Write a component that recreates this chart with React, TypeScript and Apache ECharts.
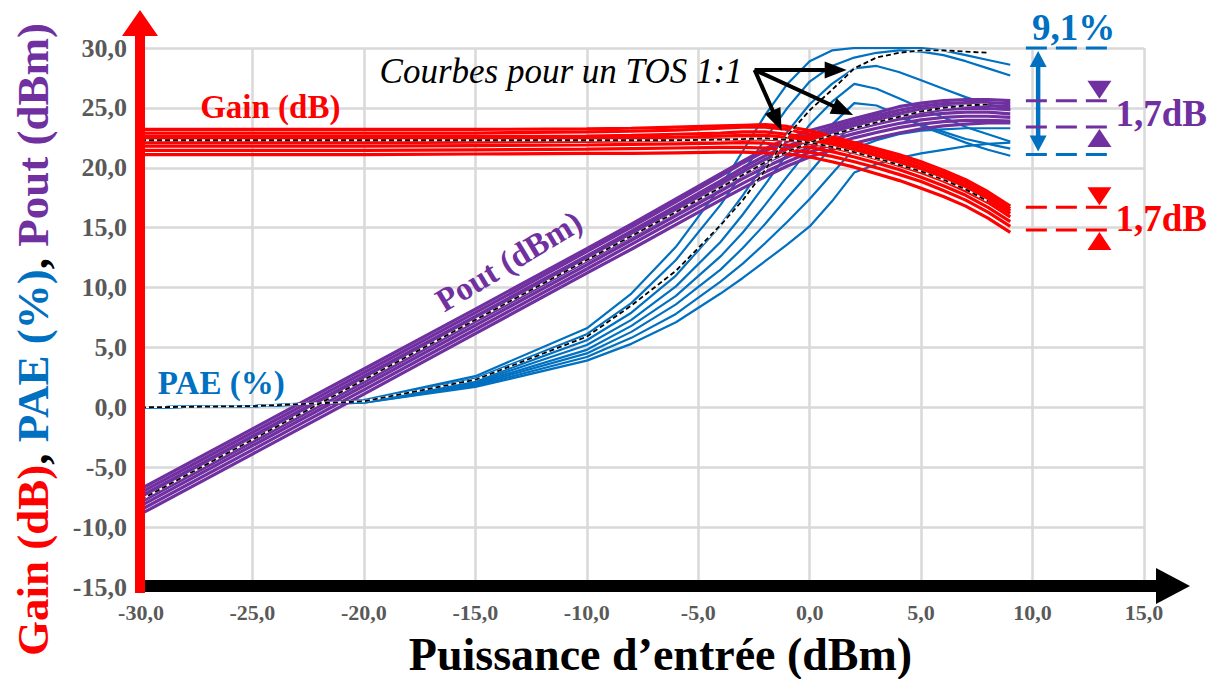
import React, { useEffect, useRef } from "react";
import * as echarts from "echarts";

// Input power (dBm), shared by all measured curves
const pin = [-30, -25, -20, -15, -10, -8, -6, -4, -3, -2, -1, 0, 1, 2, 3, 4, 5, 6, 7, 8, 9];
const pinNominal = [-30, -25, -20, -15, -10, -8, -6, -4, -3, -2, -1, 0, 1, 2, 3, 4, 5, 6, 7, 8];

// Gain (dB) for each load
const gain1 = [23.2, 23.2, 23.2, 23.2, 23.25, 23.3, 23.4, 23.5, 23.55, 23.6, 23.45, 23.1, 22.6, 22.1, 21.6, 21.1, 20.5, 19.8, 19.0, 18.0, 16.8];
const gain2 = [22.9, 22.9, 22.9, 22.9, 23.0, 23.05, 23.15, 23.3, 23.4, 23.4, 23.2, 22.8, 22.35, 21.85, 21.35, 20.85, 20.25, 19.55, 18.75, 17.8, 16.6];
const gain3 = [22.6, 22.6, 22.6, 22.6, 22.65, 22.7, 22.8, 22.9, 23.0, 23.0, 22.8, 22.5, 22.1, 21.6, 21.1, 20.6, 20.0, 19.3, 18.5, 17.6, 16.4];
const gain4 = [22.4, 22.4, 22.4, 22.4, 22.45, 22.5, 22.55, 22.65, 22.7, 22.7, 22.55, 22.3, 21.9, 21.45, 20.95, 20.4, 19.8, 19.1, 18.3, 17.35, 16.2];
const gain5 = [22.1, 22.1, 22.1, 22.15, 22.2, 22.25, 22.3, 22.35, 22.4, 22.4, 22.3, 22.05, 21.7, 21.25, 20.75, 20.2, 19.6, 18.9, 18.05, 17.1, 15.9];
const gain6 = [21.8, 21.8, 21.8, 21.85, 21.9, 21.95, 22.0, 22.05, 22.1, 22.05, 21.9, 21.7, 21.35, 20.9, 20.4, 19.85, 19.2, 18.5, 17.7, 16.7, 15.5];
const gain7 = [21.45, 21.45, 21.45, 21.5, 21.55, 21.6, 21.65, 21.7, 21.7, 21.65, 21.5, 21.3, 20.95, 20.5, 20.0, 19.45, 18.85, 18.1, 17.3, 16.3, 15.1];
const gain8 = [21.1, 21.1, 21.1, 21.15, 21.2, 21.2, 21.25, 21.3, 21.3, 21.25, 21.15, 20.9, 20.5, 20.05, 19.5, 18.95, 18.3, 17.6, 16.8, 15.8, 14.6];
const gainNominal = [22.3, 22.3, 22.3, 22.3, 22.3, 22.3, 22.3, 22.35, 22.4, 22.45, 22.35, 22.1, 21.75, 21.3, 20.8, 20.25, 19.7, 19.0, 18.2, 17.2];

// Output power (dBm) for each load
const pout1 = [-6.8, -1.8, 3.2, 8.2, 13.25, 15.3, 17.4, 19.5, 20.55, 21.6, 22.45, 23.1, 23.6, 24.1, 24.6, 25.1, 25.4, 25.6, 25.7, 25.7, 25.6];
const pout2 = [-7.1, -2.1, 2.9, 7.9, 13.0, 15.05, 17.15, 19.3, 20.4, 21.4, 22.2, 22.8, 23.35, 23.85, 24.35, 24.8, 25.15, 25.35, 25.45, 25.45, 25.35];
const pout3 = [-7.4, -2.4, 2.6, 7.6, 12.65, 14.7, 16.8, 18.9, 20.0, 21.0, 21.8, 22.5, 23.1, 23.6, 24.1, 24.55, 24.9, 25.1, 25.2, 25.2, 25.1];
const pout4 = [-7.6, -2.6, 2.4, 7.4, 12.45, 14.5, 16.55, 18.65, 19.7, 20.7, 21.55, 22.3, 22.9, 23.45, 23.9, 24.3, 24.6, 24.85, 24.95, 24.95, 24.85];
const pout5 = [-7.9, -2.9, 2.1, 7.15, 12.2, 14.25, 16.3, 18.35, 19.4, 20.4, 21.3, 22.05, 22.7, 23.2, 23.65, 24.05, 24.35, 24.55, 24.65, 24.65, 24.5];
const pout6 = [-8.2, -3.2, 1.8, 6.85, 11.9, 13.95, 16.0, 18.05, 19.1, 20.05, 20.9, 21.7, 22.35, 22.85, 23.3, 23.7, 24.0, 24.2, 24.3, 24.3, 24.2];
const pout7 = [-8.55, -3.55, 1.45, 6.5, 11.55, 13.6, 15.65, 17.7, 18.7, 19.65, 20.5, 21.3, 21.95, 22.5, 22.95, 23.35, 23.65, 23.85, 23.95, 23.95, 23.9];
const pout8 = [-8.9, -3.9, 1.1, 6.15, 11.2, 13.2, 15.25, 17.3, 18.3, 19.25, 20.15, 20.9, 21.5, 22.05, 22.5, 22.9, 23.25, 23.5, 23.65, 23.75, 23.75];
const poutNominal = [-7.7, -2.7, 2.3, 7.3, 12.3, 14.3, 16.3, 18.35, 19.4, 20.45, 21.35, 22.1, 22.75, 23.3, 23.8, 24.25, 24.7, 25.0, 25.2, 25.3];

// PAE (%) for each load
const pae1 = [0, 0.1, 0.6, 2.6, 6.6, 9.5, 13.4, 18.4, 21.4, 24.4, 27.0, 28.9, 29.8, 30.0, 30.0, 30.0, 30.0, 29.8, 29.4, 29.0, 28.6];
const pae2 = [0, 0.1, 0.55, 2.4, 6.1, 8.7, 12.3, 16.9, 19.6, 22.4, 25.0, 27.2, 28.5, 29.2, 29.6, 29.8, 29.7, 29.4, 28.9, 28.3, 27.7];
const pae3 = [0, 0.1, 0.5, 2.2, 5.6, 7.9, 11.0, 15.2, 17.7, 20.4, 23.0, 25.3, 27.0, 28.3, 28.5, 28.0, 27.3, 26.6, 25.9, 25.3, 24.8];
const pae4 = [0, 0.1, 0.5, 2.1, 5.2, 7.3, 10.1, 13.8, 16.1, 18.6, 21.2, 23.6, 25.5, 27.0, 26.6, 25.8, 25.0, 24.2, 23.4, 22.8, 22.2];
const pae5 = [0, 0.1, 0.45, 2.0, 4.8, 6.8, 9.3, 12.6, 14.6, 16.9, 19.3, 21.6, 23.6, 25.4, 25.2, 24.4, 23.5, 22.8, 22.1, 21.5, 21.0];
const pae6 = [0, 0.1, 0.45, 1.9, 4.5, 6.3, 8.6, 11.5, 13.3, 15.3, 17.5, 19.6, 21.8, 23.8, 24.5, 24.2, 23.6, 23.0, 22.4, 22.0, 21.6];
const pae7 = [0, 0.1, 0.4, 1.8, 4.2, 5.8, 7.8, 10.5, 12.0, 13.7, 15.5, 17.4, 19.5, 21.6, 22.3, 22.8, 23.1, 23.2, 23.3, 23.3, 23.3];
const pae8 = [0, 0.1, 0.4, 1.7, 3.9, 5.3, 7.1, 9.5, 10.8, 12.2, 13.6, 15.1, 17.2, 19.6, 20.3, 20.8, 21.2, 21.5, 21.8, 22.0, 22.1];
const paeNominal = [0, 0.1, 0.5, 2.3, 5.9, 8.5, 11.4, 15.2, 17.3, 19.8, 22.7, 24.8, 26.5, 28.3, 29.2, 29.6, 29.8, 29.8, 29.7, 29.6];

const gainCurves = [gain1, gain2, gain3, gain4, gain5, gain6, gain7, gain8];
const poutCurves = [pout1, pout2, pout3, pout4, pout5, pout6, pout7, pout8];
const paeCurves = [pae1, pae2, pae3, pae4, pae5, pae6, pae7, pae8];

// Spread annotations (values read at the right end)
const paeSpread = [30.0, 21.1];
const poutSpread = [25.6, 23.4];
const gainSpread = [16.7, 14.8];
const paeSpreadLabel = "9,1%";
const poutSpreadLabel = "1,7dB";
const gainSpreadLabel = "1,7dB";

const RED = "#FF0000";
const BLUE = "#0070C0";
const PURPLE = "#7030A0";
const GREY = "#595959";
const SERIF = "Liberation Serif";

const fmt = (v: number) => v.toFixed(1).replace(".", ",");

function arrow(x1: number, y1: number, x2: number, y2: number, color: string, width: number, headLen: number, headW: number) {
  const dx = x2 - x1, dy = y2 - y1;
  const L = Math.hypot(dx, dy);
  const ux = dx / L, uy = dy / L;
  const bx = x2 - ux * headLen, by = y2 - uy * headLen;
  return [
    { type: "line", z: 100, shape: { x1, y1, x2: bx + ux * 2, y2: by + uy * 2 }, style: { stroke: color, lineWidth: width } },
    {
      type: "polygon", z: 100,
      shape: { points: [[x2, y2], [bx - uy * headW / 2, by + ux * headW / 2], [bx + uy * headW / 2, by - ux * headW / 2]] },
      style: { fill: color },
    },
  ];
}

const txt = (text: string, x: number, y: number, color: string, size: number, opts: any = {}) => ({
  type: "text", z: 100, x, y, rotation: opts.rotation || 0,
  style: {
    text, fill: color, fontFamily: SERIF, fontSize: size,
    fontWeight: opts.italic ? "normal" : "bold", fontStyle: opts.italic ? "italic" : "normal",
    align: opts.align || "center", verticalAlign: "middle",
  },
});

export default function App() {
  const ref = useRef<HTMLDivElement>(null);
  useEffect(() => {
    if (!ref.current) return;
    const chart = echarts.init(ref.current, undefined, { renderer: "svg" });

    const series: any[] = [];
    const mk = (name: string, xs: number[], ys: number[], color: string, width: number, extra: any = {}) => ({
      type: "line", name, data: xs.map((x, i) => [x, ys[i]]), showSymbol: false, symbol: "none",
      lineStyle: { color, width, ...extra }, silent: true, animation: false,
    });
    paeCurves.forEach((c, i) => series.push(mk(`PAE ${i + 1}`, pin, c, BLUE, 2.2)));
    poutCurves.forEach((c, i) => series.push(mk(`Pout ${i + 1}`, pin, c, PURPLE, 3.2)));
    gainCurves.forEach((c, i) => series.push(mk(`Gain ${i + 1}`, pin, c, RED, 3.2)));
    [paeNominal, poutNominal, gainNominal].forEach((c, i) => {
      series.push(mk(`nominal-bg ${i}`, pinNominal, c, "#FFFFFF", 2));
      series.push(mk(`nominal ${i}`, pinNominal, c, "#000000", 1.8, { type: [5, 3] }));
    });

    const richStyle = (color: string) => ({ color, fontFamily: SERIF, fontWeight: "bold", fontSize: 45 });

    chart.setOption({
      animation: false,
      backgroundColor: "#FFFFFF",
      textStyle: { fontFamily: SERIF },
      grid: { left: 141, right: 73, top: 48, bottom: 92, containLabel: false, outerBoundsMode: "none" },
      xAxis: {
        type: "value", min: -30, max: 15, interval: 5,
        axisLine: { show: false }, axisTick: { show: false },
        splitLine: { show: true, lineStyle: { color: "#D9D9D9", width: 2.5 } },
        axisLabel: { formatter: fmt, fontFamily: SERIF, fontWeight: "bold", fontSize: 22, color: GREY, margin: 14 },
        name: "Puissance d\u2019entrée (dBm)", nameLocation: "middle", nameGap: 44,
        nameTextStyle: { fontFamily: SERIF, fontWeight: "bold", fontSize: 46, color: "#000000", padding: [0, 0, 0, 36] },
      },
      yAxis: {
        type: "value", min: -15, max: 30, interval: 5,
        axisLine: { show: false }, axisTick: { show: false },
        splitLine: { show: true, lineStyle: { color: "#D9D9D9", width: 2.5 } },
        axisLabel: { formatter: fmt, fontFamily: SERIF, fontWeight: "bold", fontSize: 26, color: GREY, margin: 14 },
        name: "{r|Gain (dB)}{k|, }{b|PAE (%)}{k|, }{p|Pout (dBm)}",
        nameLocation: "middle", nameRotate: 90, nameGap: 86,
        nameTextStyle: {
          fontFamily: SERIF, fontWeight: "bold", fontSize: 45, padding: [0, 0, 0, -44],
          rich: { r: richStyle(RED), k: richStyle("#000000"), b: richStyle(BLUE), p: richStyle(PURPLE) },
        },
      },
      series,
    });

    const c = (x: number, y: number) => chart.convertToPixel({ gridIndex: 0 }, [x, y]) as number[];
    const g: any[] = [];
    const [x0, yb] = c(-30, -15);
    const [xr, yt] = c(15, 30);

    // Axis arrows
    g.push({ type: "rect", z: 90, shape: { x: x0 - 2, y: yb - 7, width: xr + 16 - x0, height: 12 }, style: { fill: "#000000" } });
    g.push({ type: "polygon", z: 90, shape: { points: [[xr + 12, yb - 19], [xr + 12, yb + 17], [xr + 46, yb - 1]] }, style: { fill: "#000000" } });
    g.push({ type: "rect", z: 91, shape: { x: x0 - 6, y: yt - 14, width: 10, height: yb - yt + 20 }, style: { fill: RED } });
    g.push({ type: "polygon", z: 91, shape: { points: [[x0 - 19, yt - 12], [x0 + 17, yt - 12], [x0 - 1, yt - 38]] }, style: { fill: RED } });

    // Series labels
    const [gx, gy] = c(-24.2, 25.1);
    g.push(txt("Gain (dB)", gx, gy, RED, 33));
    const [px, py] = c(-26.4, 2.0);
    g.push(txt("PAE (%)", px, py, BLUE, 33));
    const [ox, oy] = c(-13.5, 12.2);
    g.push(txt("Pout (dBm)", ox, oy, PURPLE, 33, { rotation: (31 * Math.PI) / 180 }));

    // TOS 1:1 callout
    const [sx, sy] = c(-2.47, 28.17);
    g.push(txt("Courbes pour un TOS 1:1", sx - 12, sy + 2, "#000000", 35, { italic: true, align: "right" }));
    const tips = [c(1.66, 28.17), c(1.95, 24.4), c(-1.26, 23.1)];
    tips.forEach(([tx, ty]) => g.push(...arrow(sx, sy, tx, ty, "#000000", 4, 22, 17)));

    // Spread brackets
    const [bx1] = c(9.7, 0);
    const [bx2] = c(13.45, 0);
    const [ax] = c(10.25, 0);
    const [tx] = c(13.0, 0);
    const hline = (y: number, color: string) => {
      const [, yy] = c(0, y);
      g.push({ type: "line", z: 100, shape: { x1: bx1, y1: yy, x2: bx2, y2: yy }, style: { stroke: color, lineWidth: 3, lineDash: [21, 9] } });
      return yy;
    };
    const tri = (yy: number, down: boolean, color: string) => {
      const s = down ? -1 : 1;
      g.push({ type: "polygon", z: 100, shape: { points: [[tx - 12, yy + s * 20], [tx + 12, yy + s * 20], [tx, yy + s * 2]] }, style: { fill: color } });
    };
    // PAE
    const pt = hline(paeSpread[0], BLUE);
    const pb = hline(paeSpread[1], BLUE);
    g.push(...arrow(ax, (pt + pb) / 2, ax, pt + 3, BLUE, 4.5, 16, 17));
    g.push(...arrow(ax, (pt + pb) / 2, ax, pb - 3, BLUE, 4.5, 16, 17));
    g.push(txt(paeSpreadLabel, (bx1 + bx2) / 2 + 6, pt - 21, BLUE, 37));
    // Pout
    const ot = hline(poutSpread[0], PURPLE);
    const ob = hline(poutSpread[1], PURPLE);
    tri(ot, true, PURPLE);
    tri(ob, false, PURPLE);
    g.push(txt(poutSpreadLabel, bx2 + 6, (ot + ob) / 2, PURPLE, 37, { align: "left" }));
    // Gain
    const rt = hline(gainSpread[0], RED);
    const rb = hline(gainSpread[1], RED);
    tri(rt, true, RED);
    tri(rb, false, RED);
    g.push(txt(gainSpreadLabel, bx2 + 6, (rt + rb) / 2, RED, 37, { align: "left" }));

    chart.setOption({ graphic: g });
    return () => chart.dispose();
  }, []);
  return <div ref={ref} style={{ position: "fixed", left: 0, top: 0, width: 1217, height: 679, background: "#fff" }} />;
}
